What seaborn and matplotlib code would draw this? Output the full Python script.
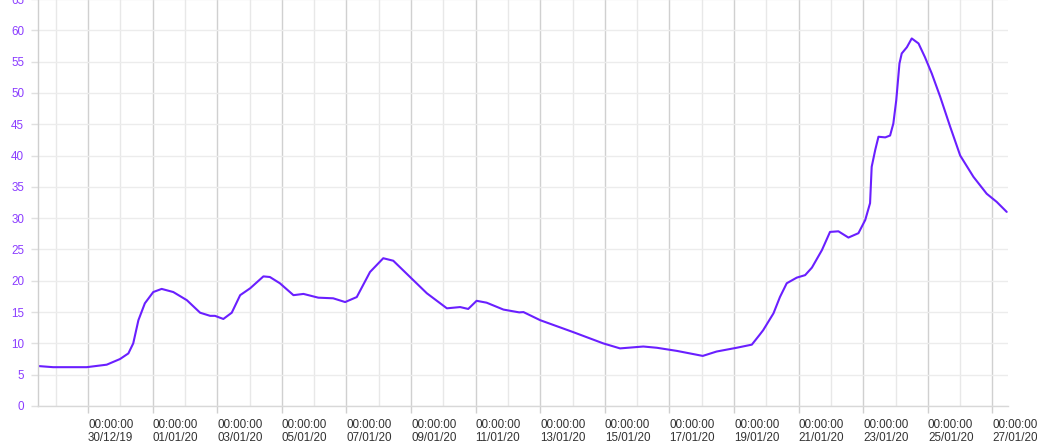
import matplotlib
matplotlib.use('Agg')
import pandas as pd
import matplotlib.pyplot as plt
import matplotlib.dates as mdates
from matplotlib.ticker import FixedLocator, MultipleLocator
import seaborn as sns

# days counted from 30/12/19 00:00
start = pd.Timestamp('2019-12-30')
day_offset = [-1.59, -1.08, -0.04, 0.58, 0.99, 1.25, 1.40, 1.56, 1.76, 2.02,
              2.28, 2.64, 3.06, 3.47, 3.78, 3.93, 4.19, 4.45, 4.71, 5.02,
              5.43, 5.63, 5.94, 6.36, 6.67, 7.13, 7.59, 7.96, 8.32, 8.73,
              9.14, 9.45, 9.97, 10.49, 11.11, 11.52, 11.77, 12.03, 12.34, 12.86,
              13.35, 13.48, 14.00, 15.02, 15.95, 16.47, 17.19, 17.61, 18.23, 19.03,
              19.46, 20.08, 20.55, 20.78, 20.90, 21.22, 21.42, 21.63, 21.94, 22.20,
              22.41, 22.72, 22.97, 23.23, 23.54, 23.85, 24.06, 24.21, 24.26, 24.37,
              24.47, 24.68, 24.83, 24.93, 25.02, 25.12, 25.19, 25.35, 25.50, 25.71,
              25.91, 26.12, 26.38, 26.69, 27.00, 27.41, 27.82, 28.13, 28.44]
value = [6.4, 6.2, 6.2, 6.6, 7.5, 8.4, 10.0, 13.7, 16.4, 18.2,
         18.7, 18.2, 16.9, 14.9, 14.4, 14.4, 13.9, 14.9, 17.7, 18.8,
         20.7, 20.6, 19.6, 17.7, 17.9, 17.3, 17.2, 16.6, 17.4, 21.4,
         23.6, 23.2, 20.6, 18.0, 15.6, 15.8, 15.5, 16.8, 16.5, 15.4,
         14.95, 15.0, 13.7, 11.8, 10.0, 9.2, 9.5, 9.3, 8.8, 8.0,
         8.7, 9.3, 9.8, 11.3, 12.1, 14.8, 17.4, 19.6, 20.5, 20.9,
         22.1, 24.9, 27.8, 27.9, 26.9, 27.6, 29.7, 32.4, 38.2, 40.9,
         43.0, 42.9, 43.2, 45.1, 48.8, 54.7, 56.3, 57.3, 58.7, 57.9,
         55.7, 53.1, 49.4, 44.6, 40.0, 36.6, 33.9, 32.6, 31.0]

major_days = pd.date_range('2019-12-30', '2020-01-27', freq='2D')
minor_days = pd.date_range('2019-12-29', '2020-01-28', freq='2D')

sns.set_theme(style='white')
plt.rcParams['font.family'] = ['Liberation Sans', 'DejaVu Sans']

df = pd.DataFrame({'time': start + pd.to_timedelta(day_offset, unit='D'),
                   'value': value})

fig = plt.figure(figsize=(10.37, 4.45), dpi=100)
ax = fig.add_axes([38 / 1037, 39 / 445, 970 / 1037, 407 / 445])
sns.lineplot(data=df, x='time', y='value', ax=ax, color='#6a1fff', lw=1.5)

ax.set_xlim(start - pd.Timedelta(days=1.548), start + pd.Timedelta(days=28.48))
ax.set_ylim(0, 65)
ax.set_xlabel('')
ax.set_ylabel('')

ax.yaxis.set_major_locator(MultipleLocator(5))
ax.xaxis.set_major_locator(FixedLocator(mdates.date2num(major_days)))
ax.xaxis.set_minor_locator(FixedLocator(mdates.date2num(minor_days)))
ax.xaxis.set_major_formatter(mdates.DateFormatter('%H:%M:%S\n%d/%m/%y'))

ax.tick_params(axis='x', which='major', length=5, width=1, color='#cfcfcf',
               labelsize=8.4, labelcolor='#333333', pad=4, bottom=True)
ax.tick_params(axis='x', which='minor', length=0)
ax.tick_params(axis='y', length=5, width=1, color='#e0e0e0',
               labelsize=8.4, labelcolor='#8b3dff', pad=5, left=True)
plt.setp(ax.get_xticklabels(), ha='left', linespacing=1.2)

ax.grid(True, which='major', axis='x', color='#d0d0d0', lw=1)
ax.grid(True, which='minor', axis='x', color='#e8e8e8', lw=1)
ax.grid(True, which='major', axis='y', color='#ececec', lw=1)

for s in ['top', 'right']:
    ax.spines[s].set_visible(False)
ax.spines['left'].set_color('#cfcfcf')
ax.spines['bottom'].set_color('#d8d8d8')
ax.spines['left'].set_linewidth(1)
ax.spines['bottom'].set_linewidth(1)

fig.savefig('out.png', dpi=100)
